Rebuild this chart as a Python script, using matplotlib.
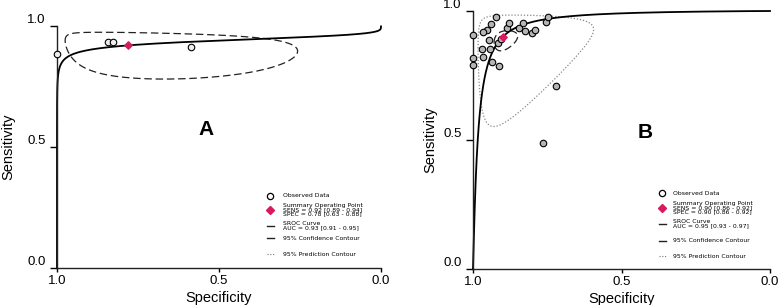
import numpy as np
import matplotlib
matplotlib.use("Agg")
import matplotlib.pyplot as plt

plt.rcParams["font.family"] = ["Liberation Sans", "DejaVu Sans"]

W, H = 778, 305

# ---- panel A data ----
a_spec = [1.00, 0.842, 0.826, 0.587]
a_sens = [0.884, 0.935, 0.935, 0.912]
a_sum_spec, a_sum_sens = 0.78, 0.92
# SROC: logit(sens) = lam - slope * logit(spec)
a_sroc_lam, a_sroc_slope = 2.75, 0.244
# confidence region in logit space: centre (spec, sens), half widths, correlation
a_conf = dict(cx=1.30, cy=2.45, sx=2.36, sy=1.18, rho=0.25)
a_text = ["SENS = 0.92 [0.89 - 0.94]", "SPEC = 0.78 [0.63 - 0.88]",
          "AUC = 0.93 [0.91 - 0.95]"]

# ---- panel B data ----
b_spec = [1.00, 1.00, 1.00, 0.923, 0.940, 0.952, 0.965, 0.946, 0.971, 0.943,
          0.965, 0.935, 0.912, 0.915, 0.907, 0.887, 0.878, 0.844, 0.831, 0.825,
          0.802, 0.791, 0.754, 0.746, 0.721, 0.765]
b_sens = [0.907, 0.817, 0.791, 0.976, 0.950, 0.926, 0.920, 0.888, 0.853, 0.853,
          0.823, 0.801, 0.787, 0.877, 0.890, 0.933, 0.952, 0.933, 0.952, 0.922,
          0.913, 0.926, 0.959, 0.978, 0.709, 0.487]
b_sum_spec, b_sum_sens = 0.90, 0.90
b_sroc_lam, b_sroc_slope = 4.7, 1.14
b_conf = dict(cx=2.15, cy=2.10, sx=0.42, sy=0.40, rho=-0.3)
b_pred = dict(cx=2.22, cy=2.17, sx=1.84, sy=1.96, rho=-0.2)
b_text = ["SENS = 0.90 [0.86 - 0.92]", "SPEC = 0.90 [0.86 - 0.92]",
          "AUC = 0.95 [0.93 - 0.97]"]

RED = "#d81b60"


def expit(z):
    return 1.0 / (1.0 + np.exp(-z))


def logit_ellipse(p):
    th = np.linspace(0, 2 * np.pi, 400)
    lx = p["cx"] + p["sx"] * np.cos(th)
    ly = p["cy"] + p["sy"] * (p["rho"] * np.cos(th) + np.sqrt(1 - p["rho"] ** 2) * np.sin(th))
    return expit(lx), expit(ly)


def sroc(lam, slope):
    t = np.linspace(-15, 40, 2000)
    return expit(t), expit(lam - slope * t)


def fx(px):
    return px / W


def fy(py):
    return 1 - py / H


fig = plt.figure(figsize=(W / 100, H / 100), dpi=100)


def make_axes(l, r, t, b, ylabpad):
    ax = fig.add_axes([fx(l), fy(b), fx(r) - fx(l), fy(t) - fy(b)])
    ax.set_xlim(1, 0)
    ax.set_ylim(0, 1)
    for s in ("top", "right"):
        ax.spines[s].set_visible(False)
    for s in ("left", "bottom"):
        ax.spines[s].set_linewidth(1.0)
        ax.spines[s].set_color("#222222")
    ax.set_xticks([1.0, 0.5, 0.0])
    ax.set_yticks([0.0, 0.5, 1.0])
    ax.set_xticklabels(["1.0", "0.5", "0.0"])
    ax.set_yticklabels(["0.0", "0.5", "1.0"])
    ax.tick_params(axis="y", length=5, width=1, pad=3, labelsize=9.5)
    ax.tick_params(axis="x", length=3, width=1, pad=2, labelsize=9.5)
    for lab in ax.get_yticklabels():
        lab.set_verticalalignment("bottom")
    ax.set_xlabel("Specificity", fontsize=10.5, labelpad=3)
    ax.set_ylabel("Sensitivity", fontsize=10.5, labelpad=ylabpad)
    return ax


def legend(x_sym, x_txt, rows, stats):
    y_obs, y_sum, y_sroc, y_conf, y_pred = rows
    kw = dict(fontsize=4.4, family="DejaVu Sans", va="center", ha="left",
              linespacing=0.82, transform=fig.transFigure)
    fig.text(fx(x_txt), fy(y_obs), "Observed Data", **kw)
    fig.text(fx(x_txt), fy(y_sum), "Summary Operating Point\n" + stats[0] + "\n" + stats[1], **kw)
    fig.text(fx(x_txt), fy(y_sroc), "SROC Curve\n" + stats[2], **kw)
    fig.text(fx(x_txt), fy(y_conf), "95% Confidence Contour", **kw)
    fig.text(fx(x_txt), fy(y_pred), "95% Prediction Contour", **kw)
    lk = dict(transform=fig.transFigure, clip_on=False)
    fig.add_artist(plt.Line2D([fx(x_sym)], [fy(y_obs)], marker="o", ms=4.5, mfc="white",
                              mec="black", mew=0.9, ls="none", **lk))
    fig.add_artist(plt.Line2D([fx(x_sym)], [fy(y_sum)], marker="D", ms=4, mfc=RED,
                              mec=RED, ls="none", **lk))
    for yy in (y_sroc + 1, y_conf):
        fig.add_artist(plt.Line2D([fx(x_sym - 3.5), fx(x_sym + 3.5)], [fy(yy), fy(yy)],
                                  color="#222222", lw=1.0, **lk))
    fig.add_artist(plt.Line2D([fx(x_sym - 3.5), fx(x_sym + 3.5)], [fy(y_pred), fy(y_pred)],
                              color="#777777", lw=0.8, ls=(0, (1, 1.5)), **lk))


# ---- panel A ----
axA = make_axes(57, 381, 26, 268, 9)
xs, ys = logit_ellipse(a_conf)
axA.plot(xs, ys, color="#222222", lw=0.9, ls=(0, (6, 3)))
xs, ys = sroc(a_sroc_lam, a_sroc_slope)
axA.plot(xs, ys, color="black", lw=1.3, clip_on=False)
axA.scatter(a_spec, a_sens, s=22, facecolor="#eeeeee", edgecolor="black", lw=0.8,
            zorder=3, clip_on=False)
axA.scatter([a_sum_spec], [a_sum_sens], marker="D", s=14, color=RED, zorder=4)
axA.text(0.539, 0.572, "A", fontsize=15, fontweight="bold", ha="center", va="center")
legend(270, 282.7, (195.7, 209.5, 225.2, 238.3, 254.3), a_text)

# ---- panel B ----
axB = make_axes(473, 770, 11, 269, 4)
xs, ys = logit_ellipse(b_pred)
axB.plot(xs, ys, color="#888888", lw=0.9, ls=(0, (1, 1.5)))
xs, ys = logit_ellipse(b_conf)
axB.plot(xs, ys, color="#222222", lw=0.9, ls=(0, (6, 3)))
xs, ys = sroc(b_sroc_lam, b_sroc_slope)
axB.plot(xs, ys, color="black", lw=1.3, clip_on=False)
axB.scatter(b_spec, b_sens, s=22, facecolor="#b5b5b5", edgecolor="black", lw=0.8,
            zorder=3, clip_on=False)
axB.scatter([b_sum_spec], [b_sum_sens], marker="D", s=14, color=RED, zorder=4)
axB.text(0.42, 0.531, "B", fontsize=15, fontweight="bold", ha="center", va="center")
legend(662.3, 672.7, (193.3, 207.7, 223.4, 241.0, 256.0), b_text)

fig.savefig("out.png", dpi=100)
